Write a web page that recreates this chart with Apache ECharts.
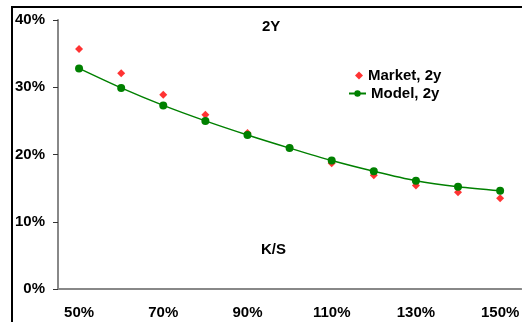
<!DOCTYPE html>
<html>
<head>
<meta charset="utf-8">
<script src="https://cdn.jsdelivr.net/npm/echarts@6/dist/echarts.min.js"></script>
<style>html,body{margin:0;padding:0;background:#fff}#c{width:522px;height:322px}</style>
</head>
<body>
<div id="c"></div>
<script>
const categories = ['50%','60%','70%','80%','90%','100%','110%','120%','130%','140%','150%'];
const marketValues = [35.7, 32.1, 28.9, 25.9, 23.2, 21.0, 18.7, 16.9, 15.4, 14.4, 13.5];
const modelValues = [32.8, 29.9, 27.3, 25.0, 22.9, 20.95, 19.1, 17.5, 16.1, 15.2, 14.6];
const yTicks = [0, 10, 20, 30, 40];

const font = 'Liberation Sans, Arial, sans-serif';
const textStyle = {color: '#000', fontWeight: 'bold', fontSize: 15, fontFamily: font};
const chart = echarts.init(document.getElementById('c'), null, {renderer: 'canvas'});
chart.setOption({
  animation: false,
  backgroundColor: '#fff',
  grid: {left: 58, top: 20, bottom: 33, right: -6, containLabel: false},
  xAxis: {
    type: 'category',
    data: categories,
    boundaryGap: true,
    axisLine: {lineStyle: {color: '#888', width: 2}},
    axisTick: {interval: 0, length: 5, lineStyle: {color: '#333', width: 1}},
    axisLabel: Object.assign({interval: 1, margin: 16}, textStyle)
  },
  yAxis: {
    type: 'value',
    min: yTicks[0], max: yTicks[yTicks.length - 1], interval: 10,
    splitLine: {show: false},
    axisLine: {show: true, lineStyle: {color: '#888', width: 2}},
    axisTick: {show: true, length: 5, lineStyle: {color: '#333', width: 1}},
    axisLabel: Object.assign({margin: 13, formatter: '{value}%'}, textStyle)
  },
  legend: [
    {
      orient: 'vertical', left: 355, top: 68, padding: 0,
      itemWidth: 8, itemHeight: 8, itemGap: 0,
      textStyle: textStyle,
      data: [{name: 'Market, 2y', icon: 'diamond'}]
    },
    {
      orient: 'vertical', left: 348, top: 86, padding: 0,
      itemWidth: 17, itemHeight: 8, itemGap: 0,
      textStyle: textStyle,
      data: [{name: 'Model, 2y'}]
    }
  ],
  series: [
    {
      name: 'Market, 2y', type: 'scatter', data: marketValues,
      symbol: 'diamond', symbolSize: 8,
      itemStyle: {color: '#ff0000'}, z: 2
    },
    {
      name: 'Model, 2y', type: 'line', data: modelValues,
      smooth: 0.3, symbol: 'circle', symbolSize: 8, showSymbol: true,
      lineStyle: {color: '#008000', width: 1.5},
      itemStyle: {color: '#008000'}, z: 3
    }
  ],
  graphic: [
    {type: 'rect', shape: {x: 12, y: 7, width: 700, height: 500}, style: {fill: 'none', stroke: '#000', lineWidth: 2}, z: 100},
    {type: 'text', left: 262, top: 19, style: {text: '2Y', font: 'bold 15px ' + font, fill: '#000'}},
    {type: 'text', left: 261, top: 242, style: {text: 'K/S', font: 'bold 15px ' + font, fill: '#000'}}
  ]
});
</script>
</body>
</html>
